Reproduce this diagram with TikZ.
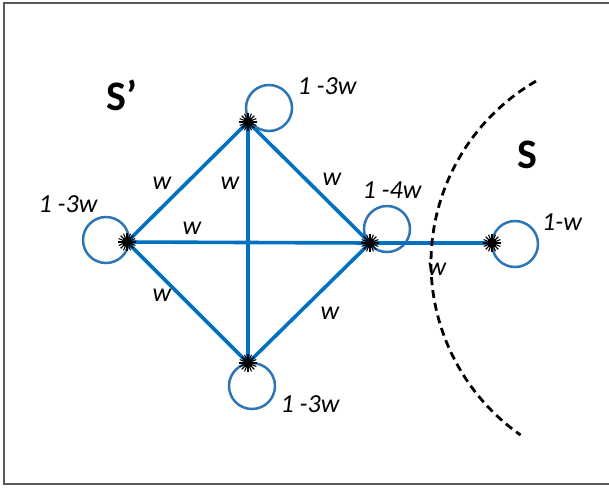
\documentclass[tikz,border=0pt]{standalone}
\usepackage{fontspec}
\setmainfont{Carlito}
\begin{document}
\begin{tikzpicture}[x=1pt,y=-1pt,
  vtx/.style={circle,inner sep=0pt,minimum size=0pt},
  edgeline/.style={draw=edgeblue,line width=3.6pt},
  loopc/.style={circle,draw=loopblue,line width=2.5pt,minimum size=46pt,inner sep=0pt},
  wlab/.style={font=\fontsize{26}{30}\selectfont\itshape,inner sep=0pt},
  setlab/.style={font=\fontsize{42}{48}\selectfont\bfseries,inner sep=0pt},
  cut/.style={draw=black,line width=2.8pt,dash pattern=on 8pt off 5pt}]
\definecolor{edgeblue}{RGB}{0,112,192}
\definecolor{loopblue}{RGB}{46,117,182}
\useasboundingbox (0,0) rectangle (609,488);
\fill[white] (0,0) rectangle (609,488);
\draw[draw=black!65,line width=1.6pt] (609,3) -- (4,3) -- (4,484) -- (609,484);
% vertices
\node[vtx] (T) at (248,122) {};
\node[vtx] (L) at (127,242) {};
\node[vtx] (R) at (370,243) {};
\node[vtx] (B) at (248,363) {};
\node[vtx] (F) at (492,243) {};
% self loops
\node[loopc] (Tl) at (269,108) {};
\node[loopc] (Ll) at (106,240) {};
\node[loopc] (Rl) at (387,229) {};
\node[loopc] (Bl) at (252,386) {};
\node[loopc] (Fl) at (515,244) {};
% edges
\path[edgeline] (T) -- (L);
\path[edgeline] (T) -- (R);
\path[edgeline] (T) -- (B);
\path[edgeline] (L) -- (R);
\path[edgeline] (L) -- (B);
\path[edgeline] (R) -- (B);
\path[edgeline] (R) -- (F);
% star markers
\foreach \n in {T,L,R,B,F}{
  \foreach \a in {0,22.5,...,337.5}{
    \draw[black,line width=1.1pt] (\n) -- ++(\a:9);
  }
  \fill[black] (\n) circle[radius=5];
}
% cut
\draw[cut] (641,263) ++(-120:210) arc[start angle=-120,end angle=-235,radius=210];
% labels
\node[wlab] at (327,86) {1 -3w};
\node[wlab] at (68,204) {1 -3w};
\node[wlab] at (392,190) {1 -4w};
\node[wlab] at (562,222) {1-w};
\node[wlab] at (310,404) {1 -3w};
\node[wlab] at (162,183) {w};
\node[wlab] at (230,183) {w};
\node[wlab] at (332,179) {w};
\node[wlab] at (192,228) {w};
\node[wlab] at (162,295) {w};
\node[wlab] at (330,313) {w};
\node[wlab] at (437,269) {w};
\node[setlab] at (122,95) {S’};
\node[setlab] at (527,155) {S};
\end{tikzpicture}
\end{document}
